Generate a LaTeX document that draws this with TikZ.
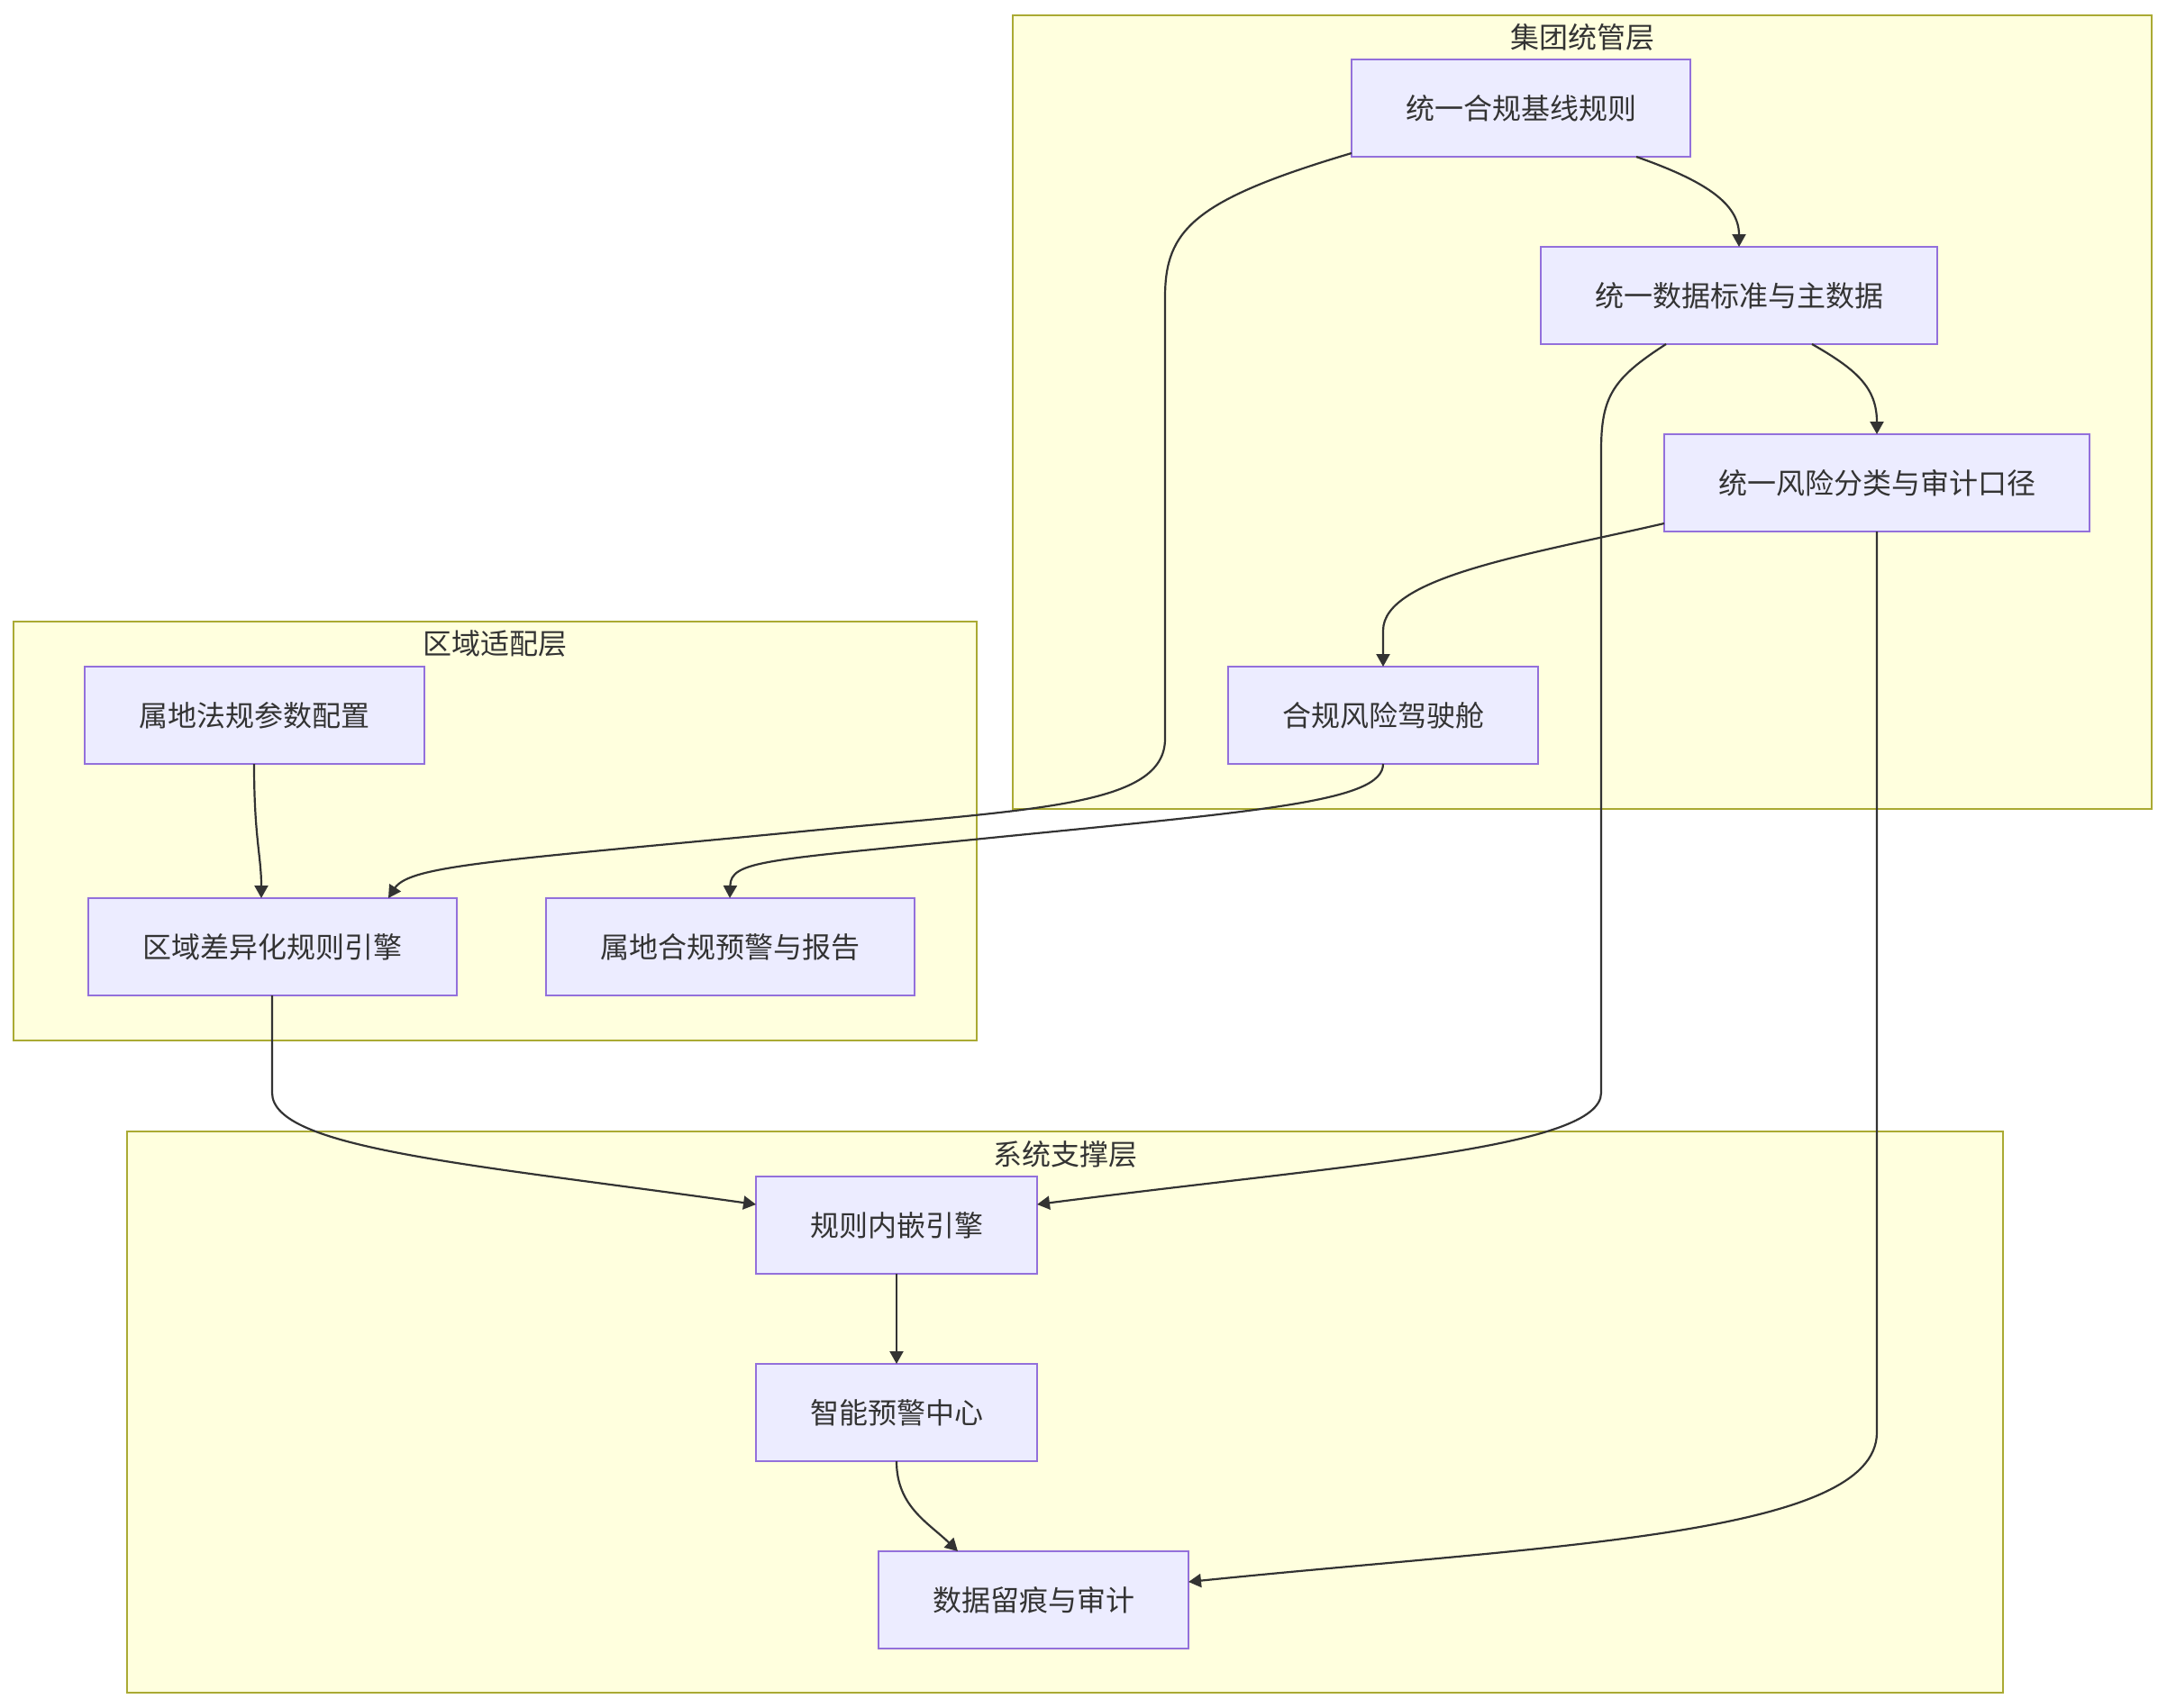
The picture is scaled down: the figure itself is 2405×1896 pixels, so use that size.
\documentclass[tikz,border=0pt]{standalone}
\usepackage{fontspec}
\setmainfont{Noto Sans CJK SC}
\usetikzlibrary{arrows.meta,calc}
\definecolor{nodefill}{HTML}{ECECFF}
\definecolor{nodedraw}{HTML}{9370DB}
\definecolor{clfill}{HTML}{FFFFDE}
\definecolor{cldraw}{HTML}{AAAA33}
\definecolor{edgec}{HTML}{333333}
\definecolor{txt}{HTML}{333333}
\begin{document}
\begin{tikzpicture}[x=0.5pt,y=-0.5pt,
  box/.style={draw=nodedraw, fill=nodefill, line width=1pt, minimum height=54pt,
    inner sep=0pt, outer sep=0pt, text=txt, font=\fontsize{16pt}{19pt}\selectfont},
  cluster/.style={draw=cldraw, fill=clfill, line width=1pt, inner sep=0pt, outer sep=0pt},
  cltitle/.style={text=txt, inner sep=0pt, font=\fontsize{16pt}{19pt}\selectfont},
  edge/.style={draw=edgec, line width=1.1pt, -{Triangle[length=7pt,width=7.5pt]}}]
\useasboundingbox (0,0) rectangle (2405,1896);
% clusters
\node[cluster, minimum width=632pt, minimum height=440.5pt] (g1) at (1756,457.5) {};
\node[cluster, minimum width=534.5pt, minimum height=232.5pt] (g2) at (549.5,922.5) {};
\node[cluster, minimum width=1041pt, minimum height=311.5pt] (g3) at (1182,1567.5) {};
\node[cltitle] (t1) at (1756,41) {集团统管层};
\node[cltitle] (t2) at (549.5,714) {区域适配层};
\node[cltitle] (t3) at (1182,1281) {系统支撑层};
% nodes
\node[box, minimum width=188pt] (A) at (1688,120) {统一合规基线规则};
\node[box, minimum width=220pt] (B) at (1930,328) {统一数据标准与主数据};
\node[box, minimum width=236pt] (C) at (2083,536) {统一风险分类与审计口径};
\node[box, minimum width=172pt] (D) at (1535,794) {合规风险驾驶舱};
\node[box, minimum width=188.5pt] (E) at (282,794) {属地法规参数配置};
\node[box, minimum width=204.5pt] (F) at (302,1051) {区域差异化规则引擎};
\node[box, minimum width=204.5pt] (G) at (810,1051) {属地合规预警与报告};
\node[box, minimum width=156pt] (H) at (995,1360) {规则内嵌引擎};
\node[box, minimum width=156pt] (I) at (995,1568) {智能预警中心};
\node[box, minimum width=172pt] (J) at (1147,1776) {数据留痕与审计};
% edges
\draw[edge] ($(A.south west)+(0,-4)$) .. controls (1325,222) and (1293,255) .. (1293,330)
  -- (1293,820) .. controls (1293,895) and (1150,898) .. (900,922)
  .. controls (560,955) and (455,960) .. ($(F.north)+(129,0)$);
\draw[edge] ($(A.south)+(128,0)$) .. controls (1890,200) and (1930,225) .. (B.north);
\draw[edge] ($(B.south)+(-81,0)$) .. controls (1790,420) and (1777,440) .. (1777,500)
  -- (1777,1213) .. controls (1777,1275) and (1500,1292) .. ($(H.east)+(0,-23)$);
\draw[edge] ($(B.south)+(81,0)$) .. controls (2060,410) and (2083,430) .. (C.north);
\draw[edge] ($(C.west)+(0,45)$) .. controls (1700,615) and (1535,640) .. (1535,700) -- (D.north);
\draw[edge] (C.south) -- (2083,1590) .. controls (2083,1705) and (1720,1715) .. ($(J.east)+(0,-20)$);
\draw[edge] (D.south) .. controls (1535,890) and (1400,900) .. (1100,930)
  .. controls (850,955) and (811,955) .. (G.north);
\draw[edge] (E.south) .. controls (282,930) and (290,950) .. ($(F.north)+(-12,0)$);
\draw[edge] (F.south) -- (302,1213) .. controls (302,1275) and (520,1292) .. ($(H.west)+(0,-23)$);
\draw[edge] (H.south) -- (I.north);
\draw[edge] (I.south) .. controls (995,1672) and (1030,1690) .. ($(J.north)+(-84,0)$);
\end{tikzpicture}
\end{document}
